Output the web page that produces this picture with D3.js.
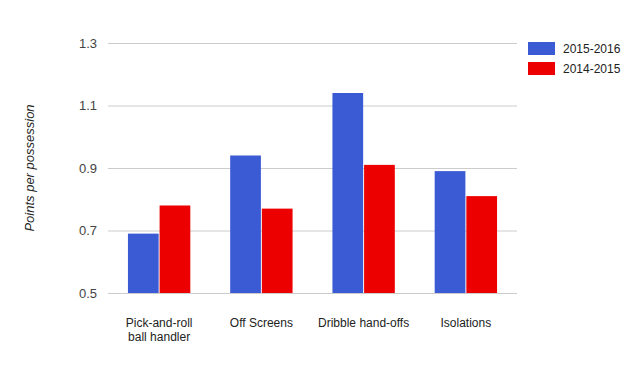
<!DOCTYPE html>
<html><head><meta charset="utf-8">
<script src="https://cdn.jsdelivr.net/npm/d3@7"></script>
<style>body{margin:0;background:#fff}svg{display:block;font-family:Arial,"Liberation Sans",sans-serif}</style>
</head><body><svg id="c" width="629" height="366"></svg>
<script>
const categories = [["Pick-and-roll","ball handler"],["Off Screens"],["Dribble hand-offs"],["Isolations"]];
const seriesNames = ["2015-2016","2014-2015"];
const values2015_2016 = [0.69, 0.94, 1.14, 0.89];
const values2014_2015 = [0.78, 0.77, 0.91, 0.81];
const yTicks = [0.5, 0.7, 0.9, 1.1, 1.3];
const colors = ["#3a5bd3", "#ec0000"];
const series = [values2015_2016, values2014_2015];

(function(){
const svg = d3.select("#c");
const pL = 108, pR = 517, pT = 43, pB = 293;
const x = d3.scaleBand().domain(d3.range(categories.length)).range([pL, pR]).paddingInner(0.39).paddingOuter(0.195);
const xs = d3.scaleBand().domain(d3.range(series.length)).range([0, x.bandwidth()]).paddingInner(0.03);
const y = d3.scaleLinear().domain([0.5, 1.3]).range([pB, pT]);

const yAxis = d3.axisLeft(y).tickValues(yTicks).tickFormat(d3.format(".1f")).tickSize(-(pR-pL)).tickPadding(11);
const ga = svg.append("g").attr("transform", `translate(${pL},0)`).call(yAxis);
ga.select(".domain").remove();
ga.selectAll(".tick line").attr("stroke", "#cccccc");
ga.selectAll(".tick text").attr("fill", "#444").style("font-size", "13px");

series.forEach((vals, si) => {
  svg.append("g").selectAll("rect").data(vals).join("rect")
    .attr("x", (d, i) => x(i) + xs(si))
    .attr("width", xs.bandwidth())
    .attr("y", d => y(d))
    .attr("height", d => y(0.5) - y(d))
    .attr("fill", colors[si]);
});

const xl = svg.append("g");
categories.forEach((lines, i) => {
  const t = xl.append("text").attr("x", x(i) + x.bandwidth()/2).attr("y", 327)
    .attr("text-anchor", "middle").attr("fill", "#222").style("font-size", "12px");
  lines.forEach((l, j) => t.append("tspan").attr("x", x(i) + x.bandwidth()/2).attr("dy", j ? 14 : 0).text(l));
});

svg.append("text").attr("transform", `translate(34,${(pT+pB)/2}) rotate(-90)`)
  .attr("text-anchor", "middle").attr("fill", "#222").style("font-size", "13px").style("font-style", "italic")
  .text("Points per possession");

const lg = svg.append("g");
seriesNames.forEach((n, i) => {
  lg.append("rect").attr("x", 528).attr("y", 42 + i*20).attr("width", 27).attr("height", 13).attr("fill", colors[i]);
  lg.append("text").attr("x", 563).attr("y", 53 + i*20).attr("fill", "#222").style("font-size", "12px").text(n);
});
})();
</script></body></html>
